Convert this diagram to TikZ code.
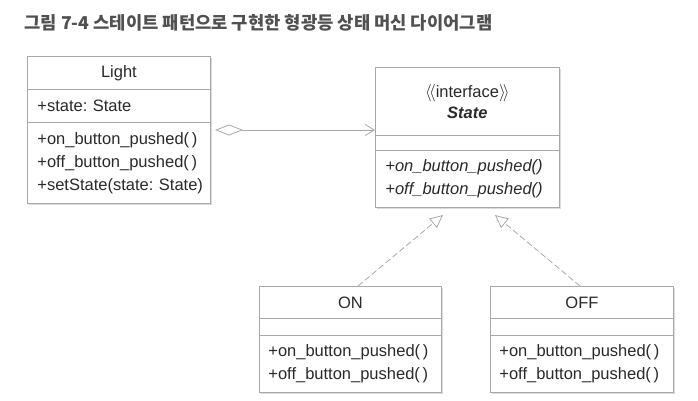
\documentclass[tikz,border=0pt]{standalone}
\usepackage{fontspec}
\setmainfont{Liberation Sans}
\newfontfamily\krfont{Noto Sans CJK KR}
\usetikzlibrary{arrows.meta,shadows}
\frenchspacing

\definecolor{linegray}{HTML}{A8A8A8}
\definecolor{textgray}{HTML}{2A2A2A}
\definecolor{titlegray}{HTML}{505050}

\tikzset{
    umlbox/.style={draw=linegray, line width=0.8pt, fill=white, anchor=north west,
        inner sep=0pt, font=\fontsize{16.5}{23}\selectfont, text=textgray,
        drop shadow={shadow xshift=1.6pt, shadow yshift=-1.6pt, fill=black!14, opacity=1}},
    opsbox/.style={umlbox, align=left, text width=#1},
    aggr/.style={draw=linegray, line width=0.8pt,
        {Diamond[open, length=28pt, width=11pt, fill=white]}-{Straight Barb[length=9pt, width=11pt]}},
    realize/.style={draw=linegray, line width=0.8pt, dash pattern=on 6pt off 3pt,
        -{Triangle[open, length=13pt, width=12pt, fill=white]}},
}

\begin{document}
\begin{tikzpicture}[x=1pt, y=-1pt]
    \useasboundingbox (0,0) rectangle (698,400);

    \node [anchor=west, text=titlegray, font=\krfont\bfseries\fontsize{17.7}{20}\selectfont] (title) at (21,23) {그림 7-4 스테이트 패턴으로 구현한 형광등 상태 머신 다이어그램};

    % Light
    \node [umlbox, minimum width=183pt, minimum height=33pt] (lightname) at (27,56) {Light};
    \node [umlbox, minimum width=183pt, minimum height=33pt, text width=163pt, align=left] (lightattr) at (27,89) {+state: State};
    \node [opsbox=163pt, minimum width=183pt, minimum height=81pt] (lightops) at (27,122)
        {+on\_button\_pushed(\,)\\+off\_button\_pushed(\,)\\\mbox{+setState(state: State)}};

    % State
    \node [umlbox, minimum width=184pt, minimum height=68pt, align=center] (statename) at (375,67)
        {$\langle\!\langle$interface$\rangle\!\rangle$\\[-2pt]\textbf{\textit{State}}};
    \node [umlbox, minimum width=184pt, minimum height=15pt] (stateattr) at (375,135) {};
    \node [opsbox=164pt, minimum width=184pt, minimum height=57pt] (stateops) at (375,150)
        {\textit{+on\_button\_pushed()}\\\textit{+off\_button\_pushed()}};

    % ON
    \node [umlbox, minimum width=182pt, minimum height=32pt] (onname) at (259,286) {ON};
    \node [umlbox, minimum width=182pt, minimum height=17pt] (onattr) at (259,318) {};
    \node [opsbox=164pt, minimum width=182pt, minimum height=57pt] (onops) at (259,335)
        {+on\_button\_pushed(\,)\\+off\_button\_pushed(\,)};

    % OFF
    \node [umlbox, minimum width=183pt, minimum height=32pt] (offname) at (490,286) {OFF};
    \node [umlbox, minimum width=183pt, minimum height=17pt] (offattr) at (490,318) {};
    \node [opsbox=165pt, minimum width=183pt, minimum height=57pt] (offops) at (490,335)
        {+on\_button\_pushed(\,)\\+off\_button\_pushed(\,)};

    \coordinate (aggstart) at (215,130);
    \coordinate (aggend) at (statename.west |- aggstart);
    \coordinate (ontip) at (443,215);
    \coordinate (offtip) at (495,215);
    \coordinate (onfoot) at (358,286);
    \coordinate (offfoot) at (580,286);

    \draw [aggr] (aggstart) -- (aggend);
    \draw [realize] (onfoot) -- (ontip);
    \draw [realize] (offfoot) -- (offtip);

\end{tikzpicture}
\end{document}
